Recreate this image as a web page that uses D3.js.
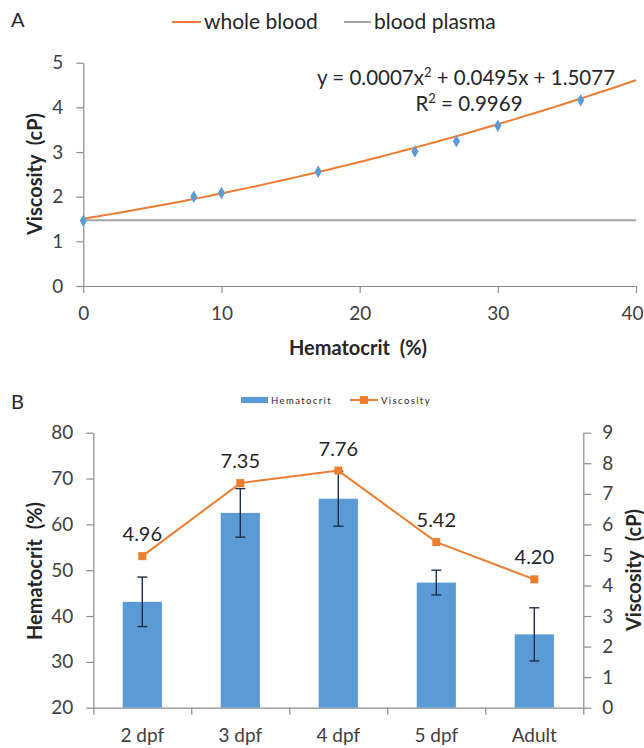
<!DOCTYPE html>
<html>
<head>
<meta charset="utf-8">
<script src="https://cdn.jsdelivr.net/npm/d3@7"></script>
<style>
    body { margin: 0; background: #fff; }
    svg text { font-family: Lato, "Open Sans", sans-serif; fill: #262626; }
</style>
</head>
<body>
<div id="app"></div>
<script>
// panel A data
const hematocritA = [0, 8, 10, 17, 24, 27, 30, 36];
const viscosityA = [1.46, 2.0, 2.08, 2.56, 3.01, 3.24, 3.59, 4.16];
const plasmaViscosity = 1.47;
// trendline coefficients as printed on the chart: c0 + c1*x + c2*x^2
const trendCoef = [1.5077, 0.0495, 0.0007];
const trendR2 = 0.9969;
const xTicksA = [0, 10, 20, 30, 40];
const yTicksA = [0, 1, 2, 3, 4, 5];

// panel B data
const stages = ['2 dpf', '3 dpf', '4 dpf', '5 dpf', 'Adult'];
const hematocritB = [43.1, 62.5, 65.6, 47.3, 36.0];
const hematocritErr = [5.4, 5.3, 6.0, 2.7, 5.8];
const viscosityB = [4.96, 7.35, 7.76, 5.42, 4.20];
const leftTicksB = [20, 30, 40, 50, 60, 70, 80];
const rightTicksB = [0, 1, 2, 3, 4, 5, 6, 7, 8, 9];

const BLUE = '#5b9bd5';
const ORANGE = '#ed7d31';
const GRAY = '#a5a5a5';
const AXIS = '#8c8c8c';
const TICK_FONT = 19;
const TITLE_FONT = 20;

const svg = d3.select('#app')
    .append('svg')
    .attr('width', 644)
    .attr('height', 748);

function styleAxis(g) {
    g.select('.domain').attr('stroke', AXIS).attr('stroke-width', 1.2);
    g.selectAll('.tick line').attr('stroke', AXIS).attr('stroke-width', 1.2);
    g.selectAll('.tick text')
        .attr('font-size', TICK_FONT)
        .style('fill', '#404040')
        .attr('font-family', 'Lato, "Open Sans", sans-serif');
}

// ---------- panel A ----------
function drawPanelA() {
    const x = d3.scaleLinear().domain([0, 40]).range([83.3, 636]);
    const y = d3.scaleLinear().domain([0, 5]).range([286, 62.7]);

    svg.append('text').attr('x', 11).attr('y', 27).attr('font-size', 20).text('A');

    svg.append('g')
        .attr('transform', `translate(${x.range()[0]},0)`)
        .call(d3.axisLeft(y).tickValues(yTicksA).tickFormat(d3.format('d'))
            .tickSize(7).tickSizeOuter(0).tickPadding(13))
        .call(styleAxis);

    const xa = svg.append('g')
        .attr('transform', `translate(0,${y(0)})`)
        .call(d3.axisBottom(x).tickValues(xTicksA).tickFormat(d3.format('d'))
            .tickSize(7).tickSizeOuter(0).tickPadding(14))
        .call(styleAxis);
    // keep the last label inside the page, as the original does
    xa.selectAll('.tick text').filter(d => d === 40).attr('dx', -4);

    // blood plasma
    svg.append('line')
        .attr('x1', x(0)).attr('x2', x(40))
        .attr('y1', y(plasmaViscosity)).attr('y2', y(plasmaViscosity))
        .attr('stroke', GRAY).attr('stroke-width', 2);

    // polynomial trendline of whole blood
    const xs = d3.range(0, 40.01, 0.5);
    const line = d3.line()
        .x(d => x(d))
        .y(d => y(trendCoef[0] + trendCoef[1] * d + trendCoef[2] * d * d));
    svg.append('path')
        .datum(xs)
        .attr('d', line)
        .attr('fill', 'none')
        .attr('stroke', ORANGE)
        .attr('stroke-width', 2);

    svg.selectAll('path.pt')
        .data(hematocritA)
        .join('path')
        .attr('class', 'pt')
        .attr('transform', (d, i) => `translate(${x(d)},${y(viscosityA[i])})`)
        .attr('d', d3.symbol(d3.symbolDiamond, 45))
        .attr('fill', BLUE);

    const eq = svg.append('text')
        .attr('x', 466).attr('y', 85)
        .attr('text-anchor', 'middle')
        .attr('font-size', 20.5);
    eq.append('tspan').text(`y = ${trendCoef[2]}x`);
    eq.append('tspan').attr('font-size', 13).attr('dy', -8).text('2');
    eq.append('tspan').attr('dy', 8).text(` + ${trendCoef[1]}x + ${trendCoef[0]}`);

    const r2 = svg.append('text')
        .attr('x', 469).attr('y', 111)
        .attr('text-anchor', 'middle')
        .attr('font-size', 20.5);
    r2.append('tspan').text('R');
    r2.append('tspan').attr('font-size', 13).attr('dy', -8).text('2');
    r2.append('tspan').attr('dy', 8).text(` = ${trendR2}`);

    svg.append('text')
        .attr('x', 358).attr('y', 355)
        .attr('text-anchor', 'middle')
        .attr('font-size', TITLE_FONT).attr('font-weight', 'bold')
        .attr('xml:space', 'preserve')
        .text('Hematocrit  (%)');

    svg.append('text')
        .attr('transform', 'translate(42,174) rotate(-90)')
        .attr('text-anchor', 'middle')
        .attr('font-size', TITLE_FONT).attr('font-weight', 'bold')
        .attr('xml:space', 'preserve')
        .text('Viscosity  (cP)');

    // legend
    const lg = svg.append('g').attr('font-size', 21);
    lg.append('line').attr('x1', 172).attr('x2', 201).attr('y1', 22).attr('y2', 22)
        .attr('stroke', ORANGE).attr('stroke-width', 2);
    lg.append('text').attr('x', 204).attr('y', 29).text('whole blood');
    lg.append('line').attr('x1', 344).attr('x2', 371).attr('y1', 22).attr('y2', 22)
        .attr('stroke', GRAY).attr('stroke-width', 2);
    lg.append('text').attr('x', 374).attr('y', 29).text('blood plasma');
}

// ---------- panel B ----------
function drawPanelB() {
    const x = d3.scaleBand().domain(stages).range([93.3, 583.3]).paddingInner(0.6).paddingOuter(0.3);
    const xTicks = d3.scaleLinear().domain([0, stages.length]).range([93.3, 583.3]);
    const yL = d3.scaleLinear().domain([20, 80]).range([707.7, 432.7]);
    const yR = d3.scaleLinear().domain([0, 9]).range([707.7, 432.7]);

    svg.append('text').attr('x', 11).attr('y', 409).attr('font-size', 20).text('B');

    svg.append('g')
        .attr('transform', 'translate(93.3,0)')
        .call(d3.axisLeft(yL).tickValues(leftTicksB).tickSize(7).tickSizeOuter(0).tickPadding(13))
        .call(styleAxis);

    svg.append('g')
        .attr('transform', 'translate(583.3,0)')
        .call(d3.axisRight(yR).tickValues(rightTicksB).tickSize(8).tickSizeOuter(0).tickPadding(11))
        .call(styleAxis);

    // category axis: ticks between categories, labels centred under bars
    const xa = svg.append('g').attr('transform', `translate(0,${yL(20)})`);
    xa.call(d3.axisBottom(xTicks).tickValues(d3.range(stages.length + 1)).tickSize(7).tickSizeOuter(0).tickFormat(''))
        .call(styleAxis);
    xa.selectAll('text.cat')
        .data(stages)
        .join('text')
        .attr('class', 'cat')
        .attr('x', d => x(d) + x.bandwidth() / 2)
        .attr('y', 34)
        .attr('text-anchor', 'middle')
        .attr('font-size', TICK_FONT)
        .style('fill', '#404040')
        .text(d => d);

    svg.selectAll('rect.bar')
        .data(stages)
        .join('rect')
        .attr('class', 'bar')
        .attr('x', d => x(d))
        .attr('width', x.bandwidth())
        .attr('y', (d, i) => yL(hematocritB[i]))
        .attr('height', (d, i) => yL(20) - yL(hematocritB[i]))
        .attr('fill', BLUE);

    // error bars
    const eb = svg.append('g').attr('stroke', '#1f2d4a').attr('stroke-width', 1.4);
    stages.forEach((s, i) => {
        const cx = x(s) + x.bandwidth() / 2;
        const hi = yL(hematocritB[i] + hematocritErr[i]);
        const lo = yL(hematocritB[i] - hematocritErr[i]);
        eb.append('line').attr('x1', cx).attr('x2', cx).attr('y1', hi).attr('y2', lo);
        eb.append('line').attr('x1', cx - 5).attr('x2', cx + 5).attr('y1', hi).attr('y2', hi);
        eb.append('line').attr('x1', cx - 5).attr('x2', cx + 5).attr('y1', lo).attr('y2', lo);
    });

    const vline = d3.line()
        .x((d, i) => x(stages[i]) + x.bandwidth() / 2)
        .y(d => yR(d));
    svg.append('path')
        .datum(viscosityB)
        .attr('d', vline)
        .attr('fill', 'none')
        .attr('stroke', ORANGE)
        .attr('stroke-width', 2);

    svg.selectAll('rect.mk')
        .data(viscosityB)
        .join('rect')
        .attr('class', 'mk')
        .attr('x', (d, i) => x(stages[i]) + x.bandwidth() / 2 - 4)
        .attr('y', d => yR(d) - 4)
        .attr('width', 8).attr('height', 8)
        .attr('fill', ORANGE);

    svg.selectAll('text.vl')
        .data(viscosityB)
        .join('text')
        .attr('class', 'vl')
        .attr('x', (d, i) => x(stages[i]) + x.bandwidth() / 2)
        .attr('y', d => yR(d) - 15)
        .attr('text-anchor', 'middle')
        .attr('font-size', 20)
        .text(d => d.toFixed(2));

    svg.append('text')
        .attr('transform', 'translate(42,571) rotate(-90)')
        .attr('text-anchor', 'middle')
        .attr('font-size', TITLE_FONT).attr('font-weight', 'bold')
        .attr('xml:space', 'preserve')
        .text('Hematocrit  (%)');

    svg.append('text')
        .attr('transform', 'translate(641,570) rotate(-90)')
        .attr('text-anchor', 'middle')
        .attr('font-size', TITLE_FONT).attr('font-weight', 'bold')
        .attr('xml:space', 'preserve')
        .text('Viscosity  (cP)');

    // legend
    const lg = svg.append('g').attr('font-size', 9.5).attr('letter-spacing', 1.4);
    lg.append('rect').attr('x', 241).attr('y', 397).attr('width', 27).attr('height', 6).attr('fill', BLUE);
    lg.append('text').attr('x', 271).attr('y', 404).text('Hematocrit');
    lg.append('line').attr('x1', 350).attr('x2', 378).attr('y1', 400).attr('y2', 400)
        .attr('stroke', ORANGE).attr('stroke-width', 2);
    lg.append('rect').attr('x', 360).attr('y', 396).attr('width', 8).attr('height', 8).attr('fill', ORANGE);
    lg.append('text').attr('x', 381).attr('y', 404).text('Viscosity');
}

drawPanelA();
drawPanelB();
</script>
</body>
</html>
